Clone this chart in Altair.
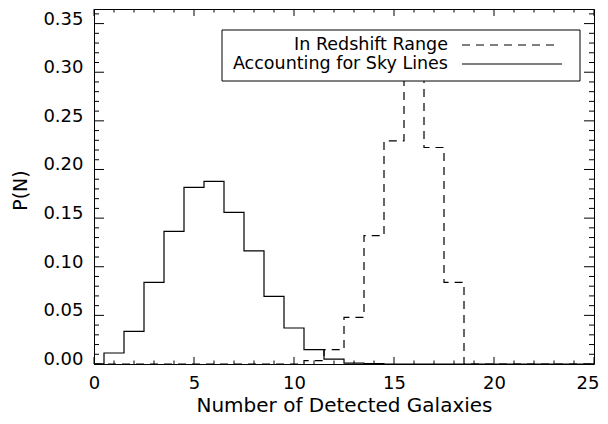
import altair as alt
import pandas as pd

# ---- data ----
N = [0, 1, 2, 3, 4, 5, 6, 7, 8, 9, 10, 11, 12, 13, 14, 15, 16, 17, 18, 19, 20, 21, 22, 23, 24, 25]
p_sky = [0.0, 0.0113, 0.0335, 0.0839, 0.1363, 0.1815, 0.1877, 0.1558, 0.1164, 0.0695,
         0.0370, 0.0147, 0.0051, 0.0010, 0.0003, 0.0, 0.0, 0.0, 0.0, 0.0,
         0.0, 0.0, 0.0, 0.0, 0.0, 0.0]
p_z = [0.0, 0.0, 0.0, 0.0, 0.0, 0.0, 0.0, 0.0, 0.0, 0.0,
       0.0, 0.0034, 0.0147, 0.0479, 0.1319, 0.2295, 0.31, 0.2226, 0.0839, 0.0,
       0.0, 0.0, 0.0, 0.0, 0.0, 0.0]

legend_labels = ["In Redshift Range", "Accounting for Sky Lines"]
x_title = "Number of Detected Galaxies"
y_title = "P(N)"

x_major = [0, 5, 10, 15, 20, 25]
x_minor = [1, 2, 3, 4, 6, 7, 8, 9, 11, 12, 13, 14, 16, 17, 18, 19, 21, 22, 23, 24]
y_major = [0.0, 0.05, 0.10, 0.15, 0.20, 0.25, 0.30, 0.35]
y_minor = [0.01, 0.02, 0.03, 0.04, 0.06, 0.07, 0.08, 0.09, 0.11, 0.12, 0.13, 0.14,
           0.16, 0.17, 0.18, 0.19, 0.21, 0.22, 0.23, 0.24, 0.26, 0.27, 0.28, 0.29,
           0.31, 0.32, 0.33, 0.34, 0.36]

# ---- layout ----
W, H = 500, 355
FONT = "DejaVu Sans"
FW = "normal"

xs = alt.Scale(domain=[0, 25], nice=False, zero=False)
ys = alt.Scale(domain=[0, 0.365], nice=False, zero=False)

xaxis = alt.Axis(values=x_major, domain=False, ticks=False, tickSize=0, grid=False,
                 labelPadding=10, labelFontSize=18, title=x_title, titleFontSize=20,
                 titleY=47, titleBaseline="alphabetic", labelFlush=False,
                 labelAlign=alt.expr("datum.value == 25 ? 'right' : 'center'"),
                 labelOffset=alt.expr("datum.value == 25 ? 5 : 0"))
yaxis = alt.Axis(values=y_major, format=".2f", domain=False, ticks=False, tickSize=0, grid=False,
                 labelPadding=11, labelFontSize=18, labelOffset=-4.5, title=y_title,
                 titleFontSize=19, titleX=-74, titleY=181, titleAngle=270,
                 titleBaseline="middle", titleAlign="center")

hist = pd.DataFrame({"N": N, "sky": p_sky, "z": p_z})
base = alt.Chart(hist)

line_z = base.mark_line(interpolate="step", color="black", strokeWidth=1.2,
                        strokeDash=[8, 6]).encode(
    x=alt.X("N:Q", scale=xs, axis=xaxis),
    y=alt.Y("z:Q", scale=ys, axis=yaxis))
line_sky = base.mark_line(interpolate="step", color="black", strokeWidth=1.2).encode(
    x=alt.X("N:Q", scale=xs, axis=xaxis),
    y=alt.Y("sky:Q", scale=ys, axis=yaxis))


def yticks(vals, L, side):
    df = pd.DataFrame({"v": vals})
    a, b = (0, L) if side == "left" else (W - L, W)
    return alt.Chart(df).mark_rule(color="black", strokeWidth=1).encode(
        y=alt.Y("v:Q", scale=ys, axis=yaxis), x=alt.value(a), x2=alt.value(b))


def xticks(vals, L, side):
    df = pd.DataFrame({"v": vals})
    a, b = (H, H - L) if side == "bottom" else (0, L)
    return alt.Chart(df).mark_rule(color="black", strokeWidth=1).encode(
        x=alt.X("v:Q", scale=xs, axis=xaxis), y=alt.value(a), y2=alt.value(b))


one = pd.DataFrame({"k": [0]})
box = alt.Chart(one).mark_rect(fill="white", stroke="black", strokeWidth=1).encode(
    x=alt.value(128), x2=alt.value(486), y=alt.value(21), y2=alt.value(72))
txt1 = alt.Chart(one).mark_text(align="right", baseline="middle", font=FONT, fontSize=17.5,
                                fontWeight=FW, color="black").encode(
    x=alt.value(354), y=alt.value(36), text=alt.value(legend_labels[0]))
txt2 = alt.Chart(one).mark_text(align="right", baseline="middle", font=FONT, fontSize=17.5,
                                fontWeight=FW, color="black").encode(
    x=alt.value(354), y=alt.value(55), text=alt.value(legend_labels[1]))
leg_z = alt.Chart(one).mark_rule(color="black", strokeWidth=1.2, strokeDash=[8, 6]).encode(
    x=alt.value(368), x2=alt.value(464), y=alt.value(36))
leg_sky = alt.Chart(one).mark_rule(color="black", strokeWidth=1.2).encode(
    x=alt.value(368), x2=alt.value(468), y=alt.value(55))

chart = alt.layer(
    line_z, line_sky, box, txt1, txt2, leg_z, leg_sky,
    yticks(y_major, 10, "left"), yticks(y_minor, 5, "left"),
    yticks(y_major, 10, "right"), yticks(y_minor, 5, "right"),
    xticks(x_major, 7, "bottom"), xticks(x_minor, 3.5, "bottom"),
    xticks(x_major, 7, "top"), xticks(x_minor, 3.5, "top"),
).properties(
    width=W, height=H, autosize="none",
    padding={"left": 86, "top": 1, "right": 6, "bottom": 52},
).configure_view(stroke="black", strokeWidth=1).configure_axis(
    labelFont=FONT, titleFont=FONT, labelColor="black", titleColor="black",
    labelFontWeight=FW, titleFontWeight=FW)

chart.save("out.html", embed_options={"renderer": "svg", "actions": False})
